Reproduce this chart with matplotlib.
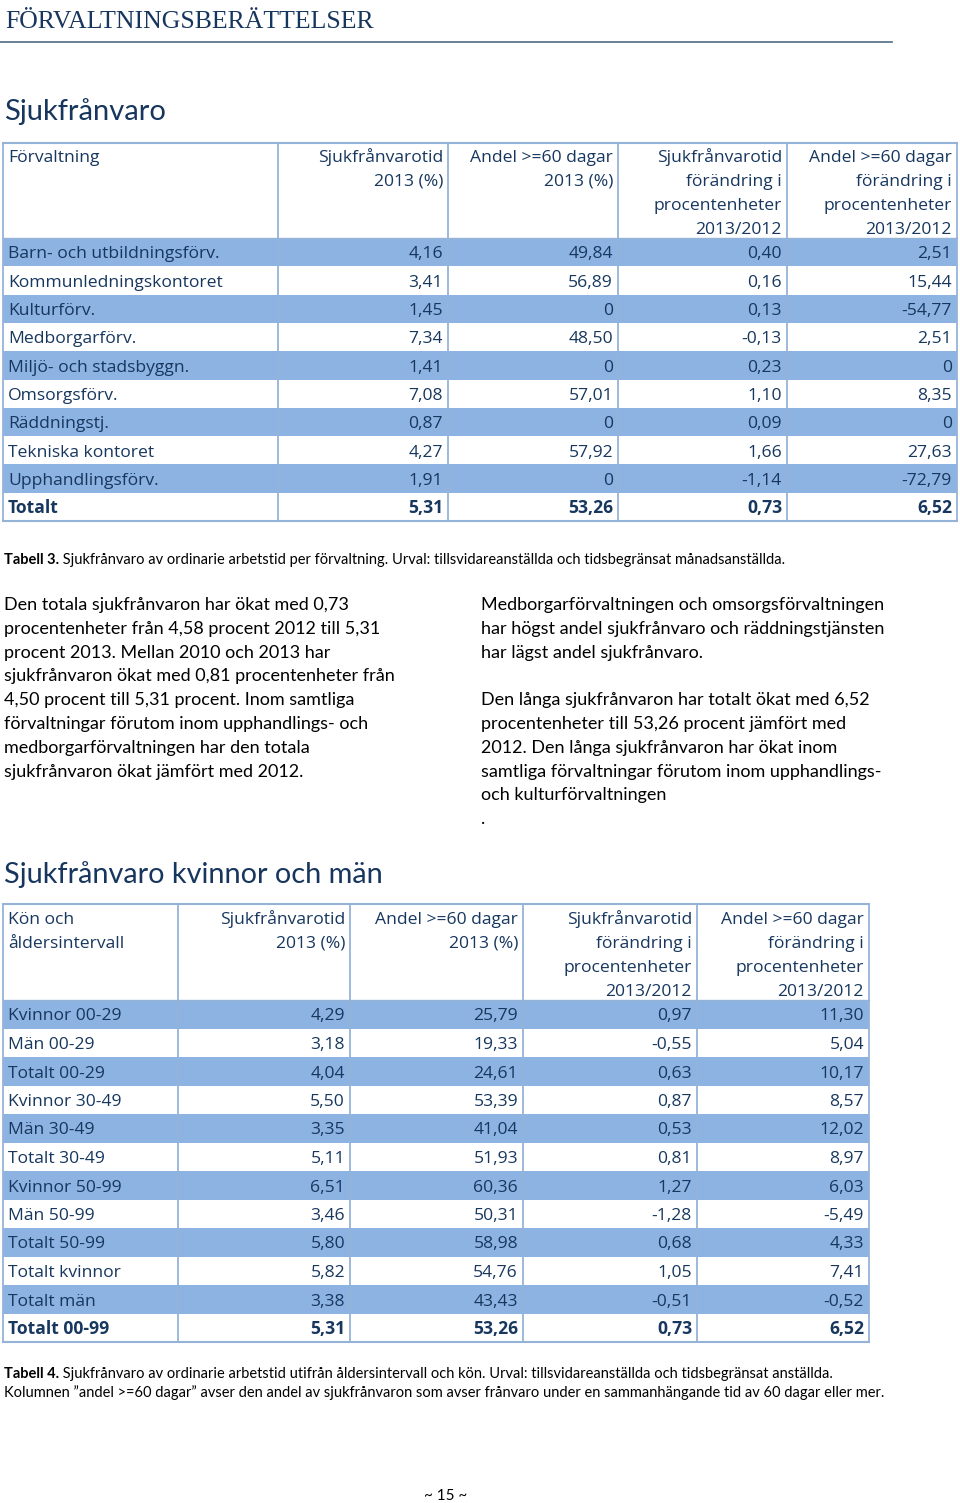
import matplotlib
matplotlib.use("Agg")
import matplotlib.pyplot as plt
from matplotlib.patches import Rectangle

# ---- data: table 3 (per förvaltning) ----
forvaltningar = ["Barn- och utbildningsförv.", "Kommunledningskontoret", "Kulturförv.",
                 "Medborgarförv.", "Miljö- och stadsbyggn.", "Omsorgsförv.",
                 "Räddningstj.", "Tekniska kontoret", "Upphandlingsförv.", "Totalt"]
sjuk_2013 = [4.16, 3.41, 1.45, 7.34, 1.41, 7.08, 0.87, 4.27, 1.91, 5.31]
andel60_2013 = [49.84, 56.89, 0, 48.50, 0, 57.01, 0, 57.92, 0, 53.26]
sjuk_diff = [0.40, 0.16, 0.13, -0.13, 0.23, 1.10, 0.09, 1.66, -1.14, 0.73]
andel60_diff = [2.51, 15.44, -54.77, 2.51, 0, 8.35, 0, 27.63, -72.79, 6.52]

# ---- data: table 4 (kön och ålder) ----
grupper = ["Kvinnor 00-29", "Män 00-29", "Totalt 00-29", "Kvinnor 30-49", "Män 30-49",
           "Totalt 30-49", "Kvinnor 50-99", "Män 50-99", "Totalt 50-99",
           "Totalt kvinnor", "Totalt män", "Totalt 00-99"]
sjuk2_2013 = [4.29, 3.18, 4.04, 5.50, 3.35, 5.11, 6.51, 3.46, 5.80, 5.82, 3.38, 5.31]
andel2_2013 = [25.79, 19.33, 24.61, 53.39, 41.04, 51.93, 60.36, 50.31, 58.98, 54.76, 43.43, 53.26]
sjuk2_diff = [0.97, -0.55, 0.63, 0.87, 0.53, 0.81, 1.27, -1.28, 0.68, 1.05, -0.51, 0.73]
andel2_diff = [11.30, 5.04, 10.17, 8.57, 12.02, 8.97, 6.03, -5.49, 4.33, 7.41, -0.52, 6.52]

head_t3 = [["Förvaltning"],
           ["Sjukfrånvarotid", "2013 (%)"],
           ["Andel >=60 dagar", "2013 (%)"],
           ["Sjukfrånvarotid", "förändring i", "procentenheter", "2013/2012"],
           ["Andel >=60 dagar", "förändring i", "procentenheter", "2013/2012"]]
head_t4 = [["Kön och", "åldersintervall"]] + head_t3[1:]

text_left = ["Den totala sjukfrånvaron har ökat med 0,73",
             "procentenheter från 4,58 procent 2012 till 5,31",
             "procent 2013. Mellan 2010 och 2013 har",
             "sjukfrånvaron ökat med 0,81 procentenheter från",
             "4,50 procent till 5,31 procent. Inom samtliga",
             "förvaltningar förutom inom upphandlings- och",
             "medborgarförvaltningen har den totala",
             "sjukfrånvaron ökat jämfört med 2012."]
text_right = ["Medborgarförvaltningen och omsorgsförvaltningen",
              "har högst andel sjukfrånvaro och räddningstjänsten",
              "har lägst andel sjukfrånvaro.",
              "",
              "Den långa sjukfrånvaron har totalt ökat med 6,52",
              "procentenheter till 53,26 procent jämfört med",
              "2012. Den långa sjukfrånvaron har ökat inom",
              "samtliga förvaltningar förutom inom upphandlings-",
              "och kulturförvaltningen",
              "."]

BAND = "#8DB3E2"
BORDER = "#95B3D7"
NAVY = "#17375E"
TFONT = "Open Sans"
BFONT = "Lato"
TSIZE = 12.6
CSIZE = 10.55


def fmt(v):
    if v == 0:
        return "0"
    return f"{v:.2f}".replace(".", ",")


fig = plt.figure(figsize=(9.6, 15.03), dpi=100)
ax = fig.add_axes([0, 0, 1, 1])
ax.set_xlim(0, 960)
ax.set_ylim(1503, 0)
ax.axis("off")


def draw_table(x_edges, top, head_bottom, row_h, header, labels, cols, head_base, head_step):
    n = len(labels)
    bottom = head_bottom + n * row_h
    # banded rows
    for i in range(n):
        if i % 2 == 0:
            ax.add_patch(Rectangle((x_edges[0], head_bottom + i * row_h), x_edges[-1] - x_edges[0],
                                   row_h, facecolor=BAND, edgecolor="none", zorder=1))
    # grid lines
    for x in x_edges:
        ax.plot([x, x], [top, bottom], color=BORDER, lw=1.3, zorder=2)
    ax.plot([x_edges[0], x_edges[-1]], [top, top], color=BORDER, lw=1.5, zorder=2)
    ax.plot([x_edges[0], x_edges[-1]], [head_bottom, head_bottom], color=BORDER, lw=1.0, zorder=2)
    ax.plot([x_edges[0], x_edges[-1]], [bottom, bottom], color=BORDER, lw=1.5, zorder=2)
    # header
    for j, lines in enumerate(header):
        for k, s in enumerate(lines):
            if j == 0:
                ax.text(x_edges[0] + 5, head_base + k * head_step, s, ha="left", va="baseline",
                        fontsize=TSIZE, family=TFONT, color=NAVY, zorder=3)
            else:
                ax.text(x_edges[j + 1] - 5, head_base + k * head_step, s, ha="right", va="baseline",
                        fontsize=TSIZE, family=TFONT, color=NAVY, zorder=3)
    # body
    for i, lab in enumerate(labels):
        y = head_bottom + i * row_h + 20.5
        bold = "bold" if i == n - 1 else "normal"
        ax.text(x_edges[0] + 5, y, lab, ha="left", va="baseline", fontsize=TSIZE,
                family=TFONT, color=NAVY, weight=bold, zorder=3)
        for j, col in enumerate(cols):
            ax.text(x_edges[j + 2] - 5, y, fmt(col[i]), ha="right", va="baseline", fontsize=TSIZE,
                    family=TFONT, color=NAVY, weight=bold, zorder=3)


def caption(y, label, rest):
    t = ax.text(4, y, label, ha="left", va="baseline", fontsize=CSIZE, family=BFONT,
                weight="bold", color="black")
    ax.annotate(" " + rest, xy=(1, 0), xycoords=t, ha="left", va="bottom",
                fontsize=CSIZE, family=BFONT, color="black")


# page header
ax.text(5, 28, "FÖRVALTNINGSBERÄTTELSER", ha="left", va="baseline", fontsize=18.5,
        family="Liberation Serif", color="#17365D")
ax.plot([0, 892], [42, 42], color="#4F6B84", lw=1.2)

ax.text(4, 120, "Sjukfrånvaro", ha="left", va="baseline", fontsize=21, family=BFONT, color="#17365D")

draw_table([3, 278, 448, 618, 787, 957], 143, 238, 28.3, head_t3, forvaltningar,
           [sjuk_2013, andel60_2013, sjuk_diff, andel60_diff], 161.5, 24)

caption(564, "Tabell 3.", "Sjukfrånvaro av ordinarie arbetstid per förvaltning. "
        "Urval: tillsvidareanställda och tidsbegränsat månadsanställda.")

for i, s in enumerate(text_left):
    ax.text(4, 610 + i * 23.8, s, ha="left", va="baseline", fontsize=13, family=BFONT, color="black")
for i, s in enumerate(text_right):
    ax.text(481, 610 + i * 23.8, s, ha="left", va="baseline", fontsize=13, family=BFONT, color="black")

ax.text(4, 883, "Sjukfrånvaro kvinnor och män", ha="left", va="baseline", fontsize=20.8,
        family=BFONT, color="#17365D")

draw_table([3, 178, 350, 523, 697, 869], 904, 1000, 28.5, head_t4, grupper,
           [sjuk2_2013, andel2_2013, sjuk2_diff, andel2_diff], 923.5, 24)

caption(1378, "Tabell 4.", "Sjukfrånvaro av ordinarie arbetstid utifrån åldersintervall och kön. "
        "Urval: tillsvidareanställda och tidsbegränsat anställda.")
ax.text(4, 1397, "Kolumnen ”andel >=60 dagar” avser den andel av sjukfrånvaron som avser frånvaro "
        "under en sammanhängande tid av 60 dagar eller mer.", ha="left", va="baseline",
        fontsize=CSIZE, family=BFONT, color="black")

ax.text(446, 1500, "~ 15 ~", ha="center", va="baseline", fontsize=11, family=BFONT, color="black")

fig.savefig("out.png", dpi=100)
plt.close(fig)
